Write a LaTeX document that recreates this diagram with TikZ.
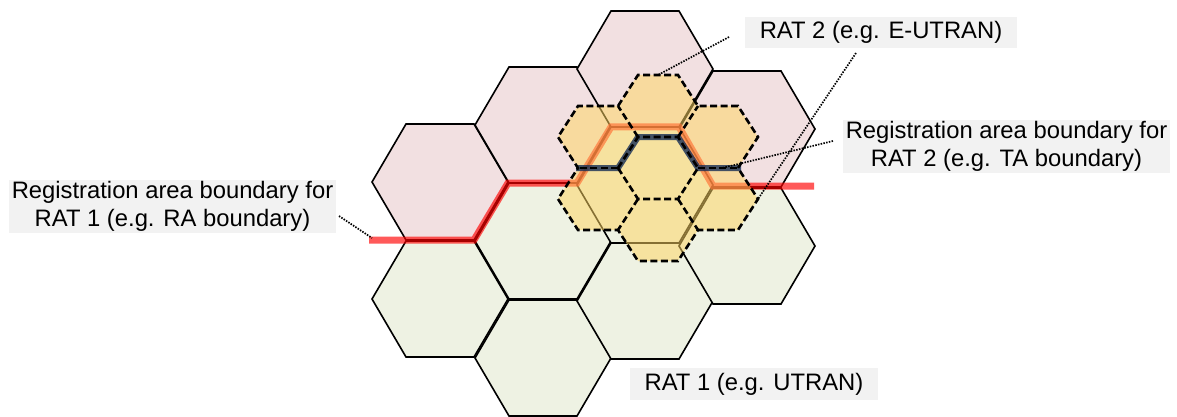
\documentclass[tikz,border=0pt]{standalone}
\usepackage{fontspec}
\setmainfont{Liberation Sans}
\definecolor{pinkc}{RGB}{242,224,225}
\definecolor{greenc}{RGB}{238,242,227}
\definecolor{yellowc}{RGB}{255,213,98}
\definecolor{navyc}{RGB}{22,45,85}
\definecolor{boxgray}{RGB}{242,242,242}
\newcommand\hexcell[3]{\path[#3] ({#1-68},#2) -- ({#1-34},{#2-58}) -- ({#1+34},{#2-58}) -- ({#1+68},#2) -- ({#1+34},{#2+58}) -- ({#1-34},{#2+58}) -- cycle;}
\newcommand\smallcell[3]{\path[#3] ({#1-40},#2) -- ({#1-20},{#2-31}) -- ({#1+20},{#2-31}) -- ({#1+40},#2) -- ({#1+20},{#2+31}) -- ({#1-20},{#2+31}) -- cycle;}
\begin{document}
\begin{tikzpicture}[x=1pt,y=-1pt,
  bighex/.style={draw=black,line width=1.6pt,line join=miter},
  pinkcell/.style={bighex,fill=pinkc},
  greencell/.style={bighex,fill=greenc},
  smallfill/.style={fill=yellowc,fill opacity=0.52},
  smalldash/.style={draw=black,line width=2.6pt,dash pattern=on 7pt off 3.5pt,line join=miter},
  raone/.style={draw=red,draw opacity=0.65,line width=7pt,line join=miter},
  ratwo/.style={draw=navyc,draw opacity=0.8,line width=6pt,line join=miter},
  leader/.style={draw=black,line width=1.7pt,dash pattern=on 1.5pt off 1.3pt},
  lbl/.style={fill=boxgray,inner sep=0pt,align=center,font=\fontsize{23.8}{28}\selectfont}]
\useasboundingbox (0,0) rectangle (1177,417);
% large cells, RAT 1 area 1 (pink)
\hexcell{440}{182}{pinkcell}
\hexcell{543}{125}{pinkcell}
\hexcell{645}{69}{pinkcell}
\hexcell{747}{129}{pinkcell}
% large cells, RAT 1 area 2 (green)
\hexcell{440}{299}{greencell}
\hexcell{543}{241}{greencell}
\hexcell{543}{358}{greencell}
\hexcell{645}{185}{greencell}
\hexcell{645}{301}{greencell}
\hexcell{747}{246}{greencell}
% RA boundary
\path[raone] (369,240) -- (474,240) -- (508,183) -- (577,183) -- (611,127) -- (679,127) -- (713,186) -- (814,186);
% small cells
\begin{scope}[shift={(658,168)}]
\smallcell{0}{0}{smallfill}
\smallcell{0}{-62}{smallfill}
\smallcell{0}{62}{smallfill}
\smallcell{60}{-31}{smallfill}
\smallcell{60}{31}{smallfill}
\smallcell{-60}{-31}{smallfill}
\smallcell{-60}{31}{smallfill}
% TA boundary
\path[ratwo] (-82,0) -- (-40,0) -- (-20,-31) -- (20,-31) -- (40,0) -- (83,0);
% dashed outlines
\smallcell{0}{0}{smalldash}
\path[smalldash] (-40,0) -- (-80,0);
\path[smalldash] (-20,-31) -- (-40,-62);
\path[smalldash] (20,-31) -- (40,-62);
\path[smalldash] (40,0) -- (80,0);
\path[smalldash] (20,31) -- (40,62);
\path[smalldash] (-20,31) -- (-40,62);
\path[smalldash] (-40,-62) -- (-20,-93) -- (20,-93) -- (40,-62) -- (80,-62) -- (100,-31) -- (80,0) -- (100,31) -- (80,62) -- (40,62) -- (20,93) -- (-20,93) -- (-40,62) -- (-80,62) -- (-100,31) -- (-80,0) -- (-100,-31) -- (-80,-62) -- cycle;
\end{scope}
% labels
\node[lbl,minimum width=272pt,minimum height=31pt] (rattwo) at (881,32.5) {RAT 2 (e.g. E-UTRAN)};
\node[lbl,minimum width=327pt,minimum height=53pt] (ta) at (1006.5,146.5) {Registration area boundary for\\RAT 2 (e.g. TA boundary)};
\node[lbl,minimum width=327pt,minimum height=53pt] (ra) at (172.5,206.5) {Registration area boundary for\\RAT 1 (e.g. RA boundary)};
\node[lbl,minimum width=248pt,minimum height=32pt] (ratone) at (754,384) {RAT 1 (e.g. UTRAN)};
% leader lines
\coordinate (la) at (729,37);
\coordinate (lae) at (658,75);
\coordinate (lb) at (856,53);
\coordinate (lbe) at (756,202);
\coordinate (lc) at (833,141);
\coordinate (lce) at (722,168);
\coordinate (ld) at (339,216);
\coordinate (lde) at (372,238);
\draw[leader] (la) -- (lae);
\draw[leader] (lb) -- (lbe);
\draw[leader] (lc) -- (lce);
\draw[leader] (ld) -- (lde);
\end{tikzpicture}
\end{document}
